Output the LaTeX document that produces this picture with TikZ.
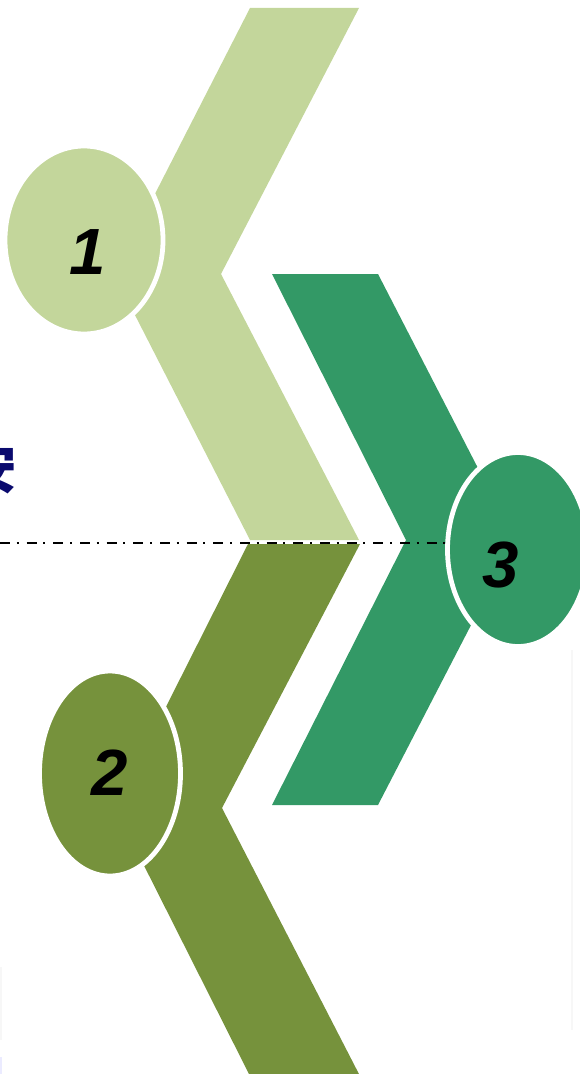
\documentclass[tikz,border=0pt]{standalone}
\usepackage{fontspec}
\setmainfont{Liberation Sans}
\newfontfamily\cjk{Noto Sans CJK SC}
\usetikzlibrary{shapes.geometric}
\definecolor{lightolive}{HTML}{C3D69B}
\definecolor{darkolive}{HTML}{76923C}
\definecolor{seagreen}{HTML}{339966}
\definecolor{navytext}{RGB}{10,10,110}
\tikzset{
  chevron/.style={draw=none},
  badge/.style={ellipse, draw=white, line width=3.6pt, inner sep=0pt},
  digit/.style={font=\fontsize{49}{50}\selectfont\bfseries\itshape, text=black, inner sep=0pt},
  axisline/.style={line width=1.2pt, dash pattern=on 7.5pt off 5pt on 1.5pt off 6pt},
  faint/.style={line width=1.2pt}
}
\begin{document}
\begin{tikzpicture}[x=0.75pt,y=-0.75pt]
\useasboundingbox (0,0) rectangle (580,1074);
% faint edge marks
\draw[faint, draw=black!3] (572,650) -- (572,1030);
\draw[faint, draw=black!3] (1,967) -- (1,1040);
\draw[faint, draw=blue!8] (1,1057) -- (1,1074);
% partially visible character
\node[font=\cjk\bfseries\fontsize{40}{40}\selectfont, text=navytext, inner sep=0pt, anchor=east] (char) at (17,468) {安};
% chevrons
\fill[chevron, lightolive] (250,8) -- (359,8) -- (221,274) -- (359,540) -- (250,540) -- (114,274) -- cycle;
\fill[chevron, darkolive] (248,544) -- (360,544) -- (222,808) -- (360,1076) -- (250,1076) -- (115,808) -- cycle;
\fill[chevron, seagreen] (272,274) -- (378,274) -- (515,540) -- (378,805) -- (272,805) -- (406,540) -- cycle;
% dash-dot axis
\coordinate (axL) at (0,543);
\coordinate (axR) at (447,543);
\draw[axisline] (axL) -- (axR);
% badges
\node[badge, fill=lightolive, minimum width=158*0.75pt, minimum height=188*0.75pt] (c1) at (84,240) {};
\node[badge, fill=darkolive, minimum width=141*0.75pt, minimum height=205*0.75pt] (c2) at (110,773.5) {};
\node[badge, fill=seagreen, minimum width=141*0.75pt, minimum height=194*0.75pt] (c3) at (518,549.5) {};
\node[digit] (n1) at (88,252.5) {1};
\node[digit] (n2) at (110,773) {2};
\node[digit] (n3) at (501,565.5) {3};
\end{tikzpicture}
\end{document}
